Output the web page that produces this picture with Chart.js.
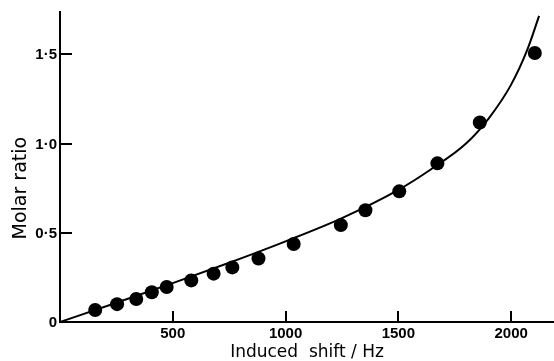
<!DOCTYPE html>
<html><head><meta charset="utf-8">
<style>html,body{margin:0;padding:0;background:#fff;overflow:hidden}</style>
<script src="https://cdn.jsdelivr.net/npm/chart.js@4/dist/chart.umd.min.js"></script>
</head><body>
<canvas id="c" width="554" height="361"></canvas>
<script>
// Measured points (induced shift in Hz, molar ratio)
const shiftHz    = [156, 253, 338, 407, 473, 582, 681, 764, 880, 1036, 1245, 1354, 1504, 1673, 1861, 2105];
const molarRatio = [0.067, 0.100, 0.129, 0.167, 0.196, 0.233, 0.271, 0.306, 0.356, 0.437, 0.543, 0.626, 0.732, 0.889, 1.118, 1.507];

// Fitted curve
const curveHz    = [0, 250, 500, 750, 1000, 1250, 1500, 1650, 1800, 1900, 2000, 2070, 2124];
const curveRatio = [0, 0.108, 0.218, 0.332, 0.452, 0.582, 0.740, 0.860, 1.000, 1.140, 1.330, 1.520, 1.715];

const xTickValues = [500, 1000, 1500, 2000];
const yTickValues = [0, 0.5, 1.0, 1.5];
const yTickLabels = ['0', '0·5', '1·0', '1·5'];
const xTitle = 'Induced  shift / Hz';
const yTitle = 'Molar ratio';

const toXY = (xs, ys) => xs.map((x, i) => ({x: x, y: ys[i]}));

const innerTicks = {
  id: 'innerTicks',
  afterDatasetsDraw(chart) {
    const {ctx, chartArea, scales} = chart;
    ctx.save();
    ctx.strokeStyle = '#000';
    ctx.lineWidth = 2;
    ctx.beginPath();
    xTickValues.forEach(v => {
      const px = Math.round(scales.x.getPixelForValue(v));
      ctx.moveTo(px, chartArea.bottom);
      ctx.lineTo(px, chartArea.bottom - 11);
    });
    yTickValues.filter(v => v > 0).forEach(v => {
      const py = Math.round(scales.y.getPixelForValue(v));
      ctx.moveTo(chartArea.left, py);
      ctx.lineTo(chartArea.left + 12, py);
    });
    ctx.stroke();
    ctx.restore();
  }
};

const tickFont = {family: '"Liberation Sans", Arial, sans-serif', size: 15, weight: 'bold'};

new Chart(document.getElementById('c'), {
  type: 'scatter',
  data: {
    datasets: [
      {
        label: 'curve',
        data: toXY(curveHz, curveRatio),
        showLine: true,
        borderColor: '#000',
        borderWidth: 2,
        pointRadius: 0,
        cubicInterpolationMode: 'monotone',
        fill: false
      },
      {
        label: 'points',
        data: toXY(shiftHz, molarRatio),
        pointRadius: 7,
        pointBorderWidth: 0,
        backgroundColor: '#000',
        borderColor: '#000'
      }
    ]
  },
  options: {
    responsive: false,
    animation: false,
    devicePixelRatio: 1,
    layout: {autoPadding: false, padding: {top: 10, right: 0, left: 0, bottom: 0}},
    plugins: {legend: {display: false}, tooltip: {enabled: false}},
    scales: {
      x: {
        type: 'linear',
        min: 0,
        max: 2190,
        afterBuildTicks: s => { s.ticks = xTickValues.map(v => ({value: v})); },
        afterFit: s => { s.height = 39; },
        grid: {display: false, drawTicks: false},
        border: {display: true, color: '#000', width: 2},
        ticks: {color: '#000', font: tickFont, padding: 3, maxRotation: 0, autoSkip: false,
                callback: v => String(v)},
        title: {display: true, text: xTitle, color: '#000',
                font: {family: '"DejaVu Sans", sans-serif', size: 17, lineHeight: 1},
                padding: {top: 0, bottom: 0}}
      },
      y: {
        type: 'linear',
        min: 0,
        max: 1.737,
        afterBuildTicks: s => { s.ticks = yTickValues.map(v => ({value: v})); },
        afterFit: s => { s.width = 60; },
        grid: {display: false, drawTicks: false},
        border: {display: true, color: '#000', width: 2},
        ticks: {color: '#000', font: tickFont, padding: 3, autoSkip: false, labelOffset: 1,
                callback: (v) => { const i = yTickValues.indexOf(v); return i >= 0 ? yTickLabels[i] : ''; }},
        title: {display: true, text: yTitle + '       ', color: '#000',
                font: {family: '"DejaVu Sans", sans-serif', size: 19, lineHeight: 1.2},
                padding: {top: 10, bottom: 0}}
      }
    }
  },
  plugins: [innerTicks]
});
</script>
</body></html>
